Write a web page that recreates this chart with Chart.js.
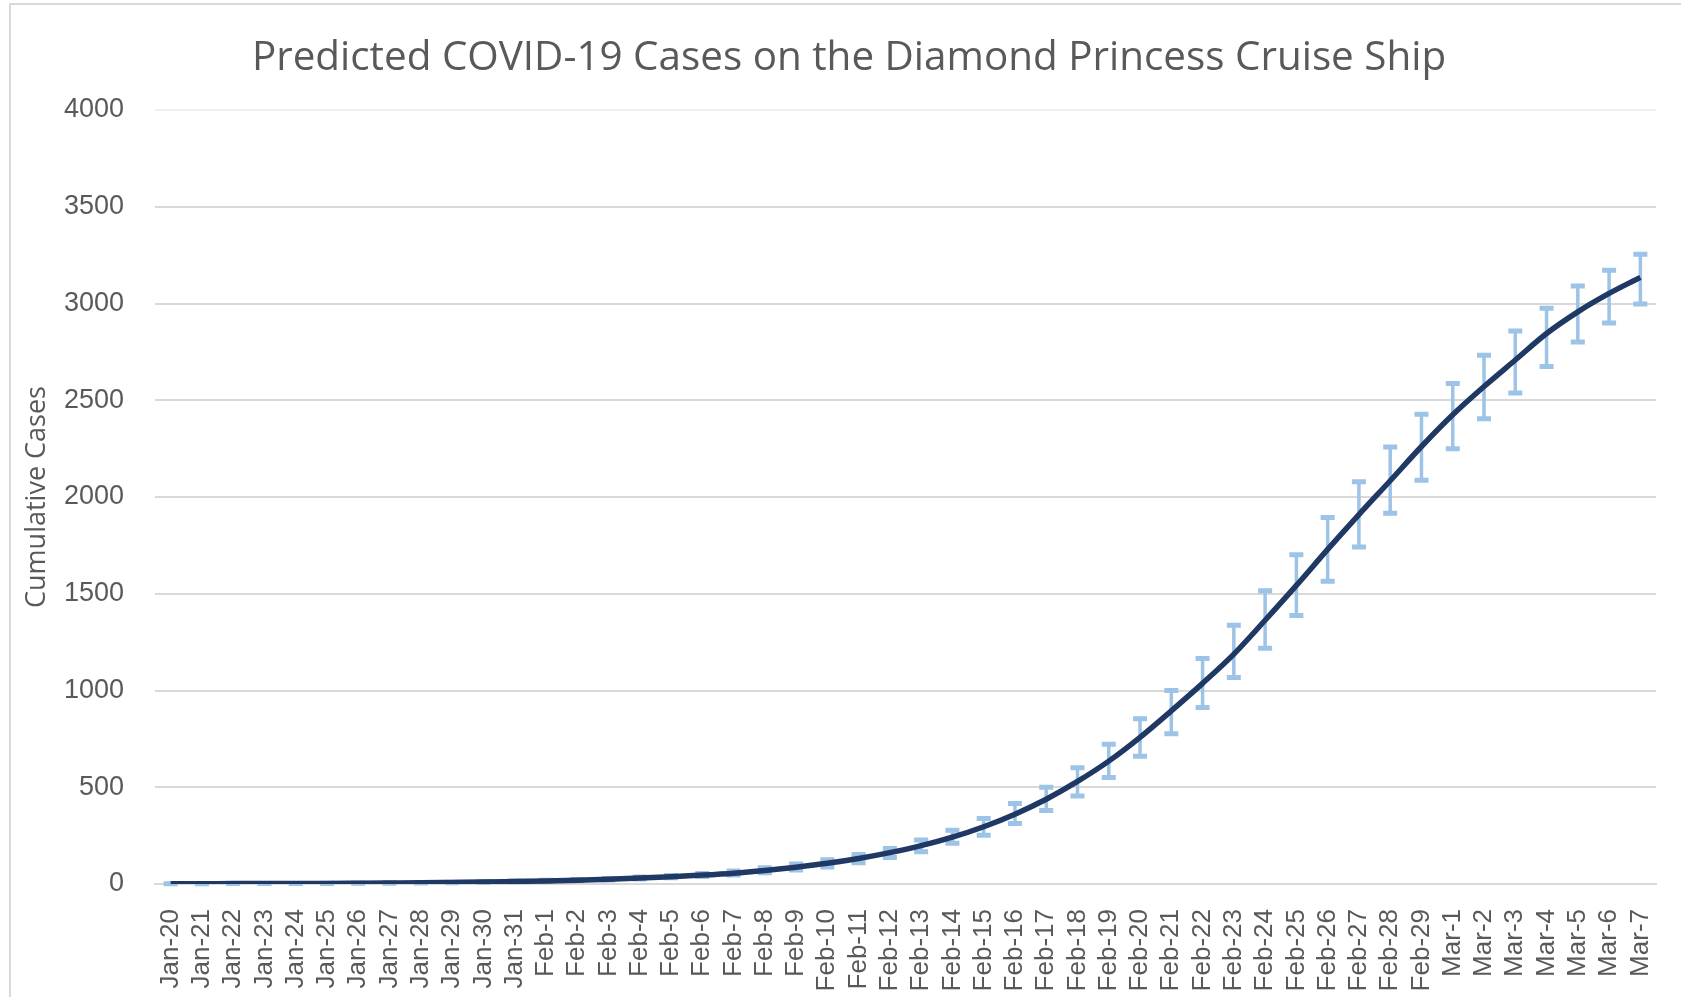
<!DOCTYPE html>
<html>
<head>
<meta charset="utf-8">
<title>Predicted COVID-19 Cases</title>
<script src="https://cdn.jsdelivr.net/npm/chart.js@4"></script>
<style>
  html, body { margin: 0; padding: 0; background: #fff; }
  #frame {
    position: absolute; left: 9px; top: 3px; width: 1672px; height: 994px;
    border-left: 2px solid #d9d9d9; border-top: 2px solid #d9d9d9;
    box-sizing: border-box;
  }
  #chart { position: absolute; left: 0; top: 0; }
</style>
</head>
<body>
<div id="frame"></div>
<canvas id="chart" width="1681" height="997"></canvas>
<script>
const chartTitle = "Predicted COVID-19 Cases on the Diamond Princess Cruise Ship";

const labels = [
  "Jan-20", "Jan-21", "Jan-22", "Jan-23", "Jan-24", "Jan-25", "Jan-26", "Jan-27",
  "Jan-28", "Jan-29", "Jan-30", "Jan-31",
  "Feb-1", "Feb-2", "Feb-3", "Feb-4", "Feb-5", "Feb-6", "Feb-7", "Feb-8", "Feb-9",
  "Feb-10", "Feb-11", "Feb-12", "Feb-13", "Feb-14", "Feb-15", "Feb-16", "Feb-17",
  "Feb-18", "Feb-19", "Feb-20", "Feb-21", "Feb-22", "Feb-23", "Feb-24", "Feb-25",
  "Feb-26", "Feb-27", "Feb-28", "Feb-29",
  "Mar-1", "Mar-2", "Mar-3", "Mar-4", "Mar-5", "Mar-6", "Mar-7"
];

// predicted cumulative cases
const predicted = [
  1, 1, 2, 2, 3, 3, 4, 5, 6, 8, 10, 13,
  16, 20, 25, 31, 38, 46, 56, 70, 87, 107, 132, 162, 198, 242, 296, 361, 438,
  530, 635, 758, 895, 1037, 1188, 1363, 1543, 1729, 1909, 2084, 2261,
  2425, 2571, 2708, 2845, 2957, 3052, 3135
];

// error bar ends
const upper = [
  1, 1, 2, 2, 3, 4, 5, 6, 7, 9, 12, 15,
  19, 23, 29, 36, 44, 54, 67, 84, 103, 125, 153, 184, 227, 278, 339, 416, 500,
  601, 722, 854, 1000, 1166, 1337, 1515, 1701, 1894, 2079, 2258, 2428,
  2586, 2732, 2858, 2976, 3090, 3172, 3255
];
const lower = [
  1, 1, 2, 2, 3, 3, 4, 4, 5, 7, 8, 11,
  13, 17, 21, 26, 32, 39, 46, 58, 72, 88, 110, 137, 167, 210, 252, 313, 380,
  455, 550, 660, 777, 912, 1067, 1218, 1387, 1565, 1742, 1916, 2086,
  2249, 2404, 2538, 2675, 2801, 2899, 2997
];

const yTicks = [0, 500, 1000, 1500, 2000, 2500, 3000, 3500, 4000];

const errorBars = {
  id: "errorBars",
  beforeDatasetsDraw(chart) {
    const { ctx, scales: { x, y } } = chart;
    ctx.save();
    ctx.strokeStyle = "#9dc3e6";
    upper.forEach((hi, i) => {
      const px = x.getPixelForValue(i);
      const yTop = y.getPixelForValue(hi);
      const yBot = y.getPixelForValue(lower[i]);
      ctx.lineWidth = 3.5;
      ctx.beginPath();
      ctx.moveTo(px, yTop);
      ctx.lineTo(px, yBot);
      ctx.stroke();
      ctx.lineWidth = 5;
      ctx.beginPath();
      ctx.moveTo(px - 7, yTop);
      ctx.lineTo(px + 7, yTop);
      ctx.moveTo(px - 7, yBot);
      ctx.lineTo(px + 7, yBot);
      ctx.stroke();
    });
    ctx.restore();
  }
};

// title is centred on the whole picture, a bit right of the chart box centre
const titleText = {
  id: "titleText",
  afterDraw(chart) {
    const ctx = chart.ctx;
    ctx.save();
    ctx.fillStyle = "#595959";
    ctx.font = "40.4px 'Open Sans', sans-serif";
    ctx.textAlign = "center";
    ctx.textBaseline = "middle";
    ctx.fillText(chartTitle, 849, 58);
    ctx.restore();
  }
};

new Chart(document.getElementById("chart"), {
  type: "line",
  data: {
    labels: labels,
    datasets: [{
      label: "Predicted",
      data: predicted,
      borderColor: "#203864",
      borderWidth: 5.5,
      pointRadius: 0,
      tension: 0.4,
      cubicInterpolationMode: "monotone",
      fill: false
    }]
  },
  options: {
    responsive: false,
    animation: false,
    layout: { padding: { left: 0, right: 25, top: 110, bottom: 0 } },
    plugins: {
      legend: { display: false },
      tooltip: { enabled: false },
      title: { display: false }
    },
    scales: {
      x: {
        offset: true,
        grid: { display: false },
        border: { display: true, color: "#d9d9d9", width: 2 },
        ticks: {
          color: "#595959",
          font: { family: "'Liberation Sans', Arial, sans-serif", size: 26 },
          minRotation: 90,
          maxRotation: 90,
          autoSkip: false,
          padding: 17
        },
        afterFit(scale) {
          scale.height = 113;
          scale.paddingLeft = 0;
          scale.paddingRight = 0;
        }
      },
      y: {
        min: 0,
        max: 4000,
        afterBuildTicks(scale) { scale.ticks = yTicks.map(v => ({ value: v })); },
        grid: {
          drawTicks: false,
          color: ctx => ctx.tick && ctx.tick.value === 4000 ? "#f0f0f0" : "#d9d9d9",
          lineWidth: 2
        },
        border: { display: false },
        ticks: {
          color: "#595959",
          font: { family: "'Liberation Sans', Arial, sans-serif", size: 27 },
          padding: 31,
          callback: v => String(v)
        },
        title: {
          display: true,
          text: "Cumulative Cases",
          color: "#595959",
          font: { family: "'Open Sans', sans-serif", size: 27 },
          padding: { top: 21, bottom: 0 }
        },
        afterFit(scale) { scale.width = 155; }
      }
    }
  },
  plugins: [errorBars, titleText]
});
</script>
</body>
</html>
